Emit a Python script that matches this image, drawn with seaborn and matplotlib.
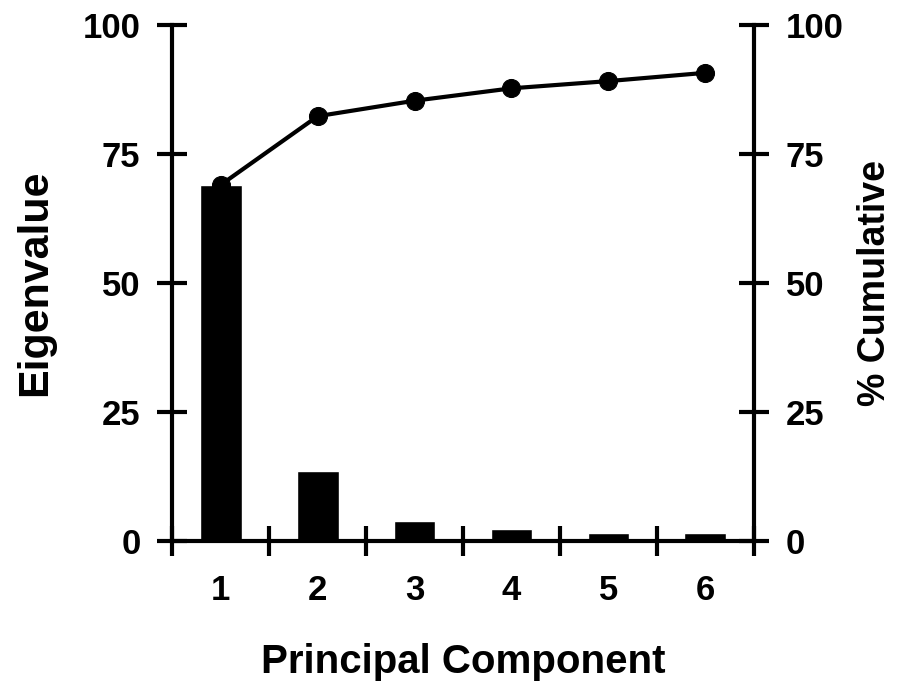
import numpy as np
import pandas as pd
import matplotlib
matplotlib.use("Agg")
import matplotlib.pyplot as plt
from matplotlib.ticker import FixedLocator
import seaborn as sns

# Principal components and their eigenvalues / cumulative variance (%)
components = ["1", "2", "3", "4", "5", "6"]
eigenvalues = [69.0, 13.5, 3.9, 2.3, 1.6, 1.6]
cumulative = [69.0, 82.3, 85.3, 87.7, 89.1, 90.7]
y_ticks = [0, 25, 50, 75, 100]

sns.set_style("white")
plt.rcParams["font.family"] = ["Liberation Sans", "DejaVu Sans"]
plt.rcParams["font.weight"] = "bold"
plt.rcParams["text.color"] = "black"
plt.rcParams["axes.labelcolor"] = "black"
plt.rcParams["xtick.color"] = "black"
plt.rcParams["ytick.color"] = "black"

df = pd.DataFrame({"component": components,
                   "eigenvalue": eigenvalues,
                   "cumulative": cumulative})

fig = plt.figure(figsize=(9.07, 6.90), dpi=100)
ax = fig.add_axes([0.19, 0.216, 0.641, 0.748])

sns.barplot(data=df, x="component", y="eigenvalue", color="black",
            width=0.43, saturation=1, ax=ax)

ax2 = ax.twinx()
sns.lineplot(x=np.arange(len(components)), y=df["cumulative"], color="black",
             linewidth=3, marker="o", markersize=13, markeredgecolor="black",
             ax=ax2)

lw = 3
for a in (ax, ax2):
    a.set_xlim(-0.5, len(components) - 0.5)
    a.set_ylim(0, 100)
    a.set_yticks(y_ticks)
    a.spines["top"].set_visible(False)
    for s in ("left", "right", "bottom"):
        a.spines[s].set_linewidth(lw)
        a.spines[s].set_color("black")

ax.spines["right"].set_visible(False)
ax2.spines["left"].set_visible(False)
ax2.spines["bottom"].set_visible(False)

# category labels under the bars, tick marks between categories
ax.set_xticks(np.arange(len(components)))
ax.set_xticklabels(components)
ax.xaxis.set_minor_locator(FixedLocator(np.arange(-0.5, len(components), 1.0)))
ax.tick_params(axis="x", which="major", bottom=True, length=0, pad=24,
               labelsize=25, labelcolor="black")
ax.tick_params(axis="x", which="minor", bottom=True, direction="inout",
               length=22, width=lw, color="black")
ax.tick_params(axis="y", left=True, direction="inout", length=22, width=lw,
               color="black", labelsize=25, labelcolor="black", pad=12)
ax2.tick_params(axis="y", right=True, direction="inout", length=22, width=lw,
                color="black", labelsize=25, labelcolor="black", pad=12)

for lab in ax.get_xticklabels() + ax.get_yticklabels() + ax2.get_yticklabels():
    lab.set_fontweight("bold")

ax.set_xlabel("Principal Component", fontsize=29, fontweight="bold",
              color="black", labelpad=26)
ax.set_ylabel("Eigenvalue", fontsize=31, fontweight="bold",
              color="black", labelpad=20)
ax2.set_ylabel("% Cumulative", fontsize=27, fontweight="bold",
               color="black", labelpad=10)

fig.savefig("out.png", dpi=100)
